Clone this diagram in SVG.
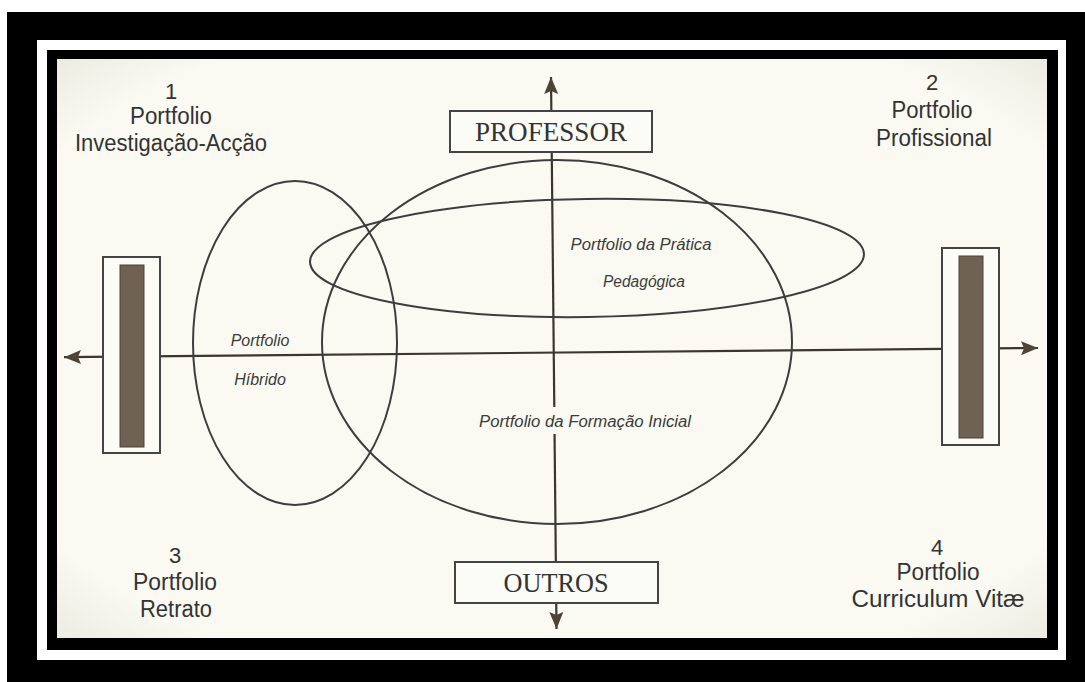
<svg xmlns="http://www.w3.org/2000/svg" width="1085" height="682" viewBox="0 0 1085 682">
<defs>
<style>
.ln{stroke:#3b3631;stroke-width:2.2;fill:none}
.ell{stroke:#3d3d3d;stroke-width:2;fill:none}
.box{fill:#fcfcf6;stroke:#444;stroke-width:2}
.bar{fill:#6f6253;stroke:#4a4038;stroke-width:1}
.lab{font-family:"Liberation Sans",Arial,sans-serif;fill:#333;text-anchor:middle}
.cap{font-family:"Liberation Serif","Times New Roman",serif;fill:#333;text-anchor:middle;font-size:27px}
.in{font-family:"Liberation Sans",Arial,sans-serif;font-style:italic;fill:#3a3a3a;font-size:16px;text-anchor:middle}
</style>
<marker id="ah" markerUnits="userSpaceOnUse" markerWidth="20" markerHeight="16" refX="17" refY="7" orient="auto-start-reverse">
<path d="M0,0 L17,7 L0,14 L3,7 Z" fill="#4f4237"/>
</marker>
<radialGradient id="bg" cx="0.5" cy="0.5" r="0.75">
<stop offset="0.8" stop-color="#fafaf2"/>
<stop offset="1" stop-color="#e6e6dc"/>
</radialGradient>
</defs>
<rect x="0" y="0" width="1085" height="682" fill="#ffffff"/>
<rect x="7" y="12" width="1078" height="670" fill="#000"/>
<rect x="37" y="40" width="1029" height="620" fill="#ffffff"/>
<rect x="47" y="50" width="1011" height="600" fill="#000"/>
<rect x="57" y="59" width="990" height="579" fill="url(#bg)"/>

<g id="connectors">
<line class="ln" x1="551" y1="77" x2="556.5" y2="629" marker-start="url(#ah)" marker-end="url(#ah)"/>
<line class="ln" x1="64" y1="357.2" x2="1038" y2="348" marker-start="url(#ah)" marker-end="url(#ah)"/>
</g>

<g id="hibrido">
<ellipse class="ell" cx="295" cy="343" rx="102" ry="162"/>
<text class="in" x="260" y="346">Portfolio</text>
<text class="in" x="260" y="385">Híbrido</text>
</g>
<g id="formacao-inicial">
<ellipse class="ell" cx="557" cy="342" rx="235" ry="182"/>
<rect x="544" y="407" width="22" height="27" fill="#fafaf2"/>
<text class="in" x="585" y="427" textLength="212" lengthAdjust="spacingAndGlyphs">Portfolio da Formação Inicial</text>
</g>
<g id="pratica-pedagogica">
<ellipse class="ell" cx="587" cy="258" rx="277" ry="59" transform="rotate(-0.8 587 258)"/>
<text class="in" x="641" y="250" textLength="141" lengthAdjust="spacingAndGlyphs">Portfolio da Prática</text>
<text class="in" x="644" y="287" textLength="82" lengthAdjust="spacingAndGlyphs">Pedagógica</text>
</g>

<g id="professor">
<rect class="box" x="450" y="111" width="202" height="41"/>
<text class="cap" x="551" y="141" textLength="152" lengthAdjust="spacingAndGlyphs">PROFESSOR</text>
</g>
<g id="outros">
<rect class="box" x="455" y="562" width="203" height="41"/>
<text class="cap" x="556" y="592" textLength="105" lengthAdjust="spacingAndGlyphs">OUTROS</text>
</g>

<g id="left-bar">
<rect class="box" x="103" y="257" width="57" height="196"/>
<rect class="bar" x="120" y="265" width="24" height="182"/>
</g>
<g id="right-bar">
<rect class="box" x="942" y="248" width="57" height="197"/>
<rect class="bar" x="959" y="256" width="24" height="182"/>
</g>

<g id="q1">
<text class="lab" x="171" y="99" font-size="22">1</text>
<text class="lab" x="171" y="124" font-size="23" textLength="82" lengthAdjust="spacingAndGlyphs">Portfolio</text>
<text class="lab" x="171" y="151" font-size="23" textLength="192" lengthAdjust="spacingAndGlyphs">Investigação-Acção</text>
</g>
<g id="q2">
<text class="lab" x="932" y="90" font-size="22">2</text>
<text class="lab" x="932" y="118" font-size="23" textLength="81" lengthAdjust="spacingAndGlyphs">Portfolio</text>
<text class="lab" x="934" y="146" font-size="23" textLength="116" lengthAdjust="spacingAndGlyphs">Profissional</text>
</g>
<g id="q3">
<text class="lab" x="175" y="563" font-size="22">3</text>
<text class="lab" x="175" y="590" font-size="23" textLength="84" lengthAdjust="spacingAndGlyphs">Portfolio</text>
<text class="lab" x="176" y="617" font-size="23" textLength="72" lengthAdjust="spacingAndGlyphs">Retrato</text>
</g>
<g id="q4">
<text class="lab" x="937" y="555" font-size="22">4</text>
<text class="lab" x="938" y="580" font-size="23" textLength="83" lengthAdjust="spacingAndGlyphs">Portfolio</text>
<text class="lab" x="938" y="607" font-size="23" textLength="173" lengthAdjust="spacingAndGlyphs">Curriculum Vitæ</text>
</g>
</svg>
